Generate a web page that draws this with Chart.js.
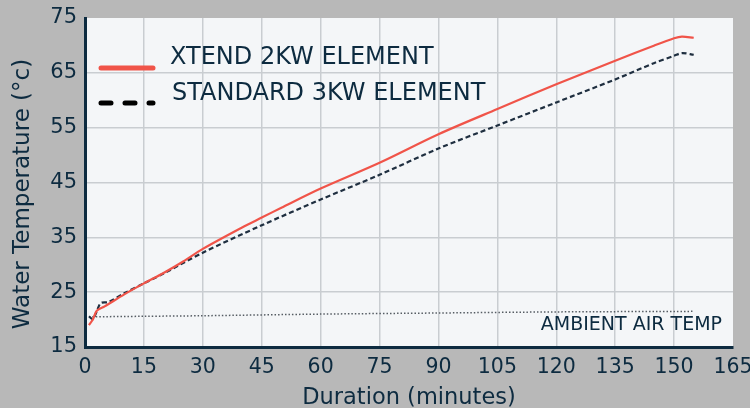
<!DOCTYPE html>
<html>
<head>
<meta charset="utf-8">
<script src="https://cdn.jsdelivr.net/npm/chart.js@4"></script>
<style>
  html, body { margin: 0; padding: 0; background: #b8b8b8; }
  canvas { display: block; }
</style>
</head>
<body>
<canvas id="chart" width="750" height="408"></canvas>
<script>
// minutes / degrees C
const xtendMinutes = [1, 2, 3, 5, 10, 15, 20, 25, 30, 40, 45, 50, 60, 75, 90, 105, 120, 135, 145, 150, 152, 155];
const xtendTemps = [19.0, 20.0, 21.6, 22.4, 24.6, 26.6, 28.5, 30.6, 32.9, 36.8, 38.6, 40.4, 43.9, 48.6, 53.8, 58.4, 62.9, 67.2, 70.0, 71.3, 71.6, 71.4];

const standardMinutes = [1, 2, 3, 4, 6, 10, 15, 20, 30, 45, 60, 75, 90, 105, 120, 135, 145, 150, 152, 155];
const standardTemps = [20.6, 20.1, 21.5, 23.0, 23.2, 24.8, 26.6, 28.4, 32.2, 37.2, 41.9, 46.4, 51.2, 55.4, 59.6, 63.8, 66.8, 68.1, 68.6, 68.3];

const ambientMinutes = [1, 15, 30, 60, 90, 120, 155];
const ambientTemps = [20.5, 20.6, 20.7, 21.0, 21.2, 21.4, 21.5];

const navy = '#0d2b40';
const font = "'DejaVu Sans', sans-serif";

function toPoints(xs, ys) {
  return xs.map((x, i) => ({ x: x, y: ys[i] }));
}

const plotBg = {
  id: 'plotBg',
  beforeDraw(chart) {
    const { ctx, chartArea: a } = chart;
    ctx.save();
    ctx.fillStyle = '#f4f6f8';
    ctx.fillRect(a.left, a.top, a.right - a.left, a.bottom - a.top);
    ctx.restore();
  }
};

// legend drawn inside the plot, plus the ambient label and y title
const notes = {
  id: 'notes',
  afterDraw(chart) {
    const { ctx } = chart;
    const sets = chart.data.datasets;
    ctx.save();
    ctx.font = '24px ' + font;
    ctx.fillStyle = navy;
    ctx.textBaseline = 'middle';
    ctx.lineCap = 'round';

    ctx.strokeStyle = sets[0].borderColor;
    ctx.lineWidth = 5;
    ctx.beginPath(); ctx.moveTo(101, 68); ctx.lineTo(153, 68); ctx.stroke();
    ctx.fillText(sets[0].label, 170, 58);

    ctx.strokeStyle = '#000';
    ctx.lineWidth = 5;
    ctx.setLineDash([10, 14]);
    ctx.beginPath(); ctx.moveTo(101, 103); ctx.lineTo(153, 103); ctx.stroke();
    ctx.setLineDash([]);
    ctx.fillText(sets[1].label, 172, 94);

    ctx.font = '19px ' + font;
    ctx.textAlign = 'right';
    ctx.fillText('AMBIENT AIR TEMP', 722, 325);

    ctx.font = '23px ' + font;
    ctx.textAlign = 'center';
    ctx.translate(23, 194);
    ctx.rotate(-Math.PI / 2);
    ctx.fillText('Water Temperature (°c)', 0, 0);
    ctx.restore();
  }
};

new Chart(document.getElementById('chart'), {
  type: 'line',
  data: {
    datasets: [
      {
        label: 'XTEND 2KW ELEMENT',
        data: toPoints(xtendMinutes, xtendTemps),
        borderColor: '#f05449',
        borderWidth: 2.2,
        pointRadius: 0,
        tension: 0.3
      },
      {
        label: 'STANDARD 3KW ELEMENT',
        data: toPoints(standardMinutes, standardTemps),
        borderColor: '#1f2f40',
        borderWidth: 2.2,
        borderDash: [5, 3],
        pointRadius: 0,
        tension: 0.3
      },
      {
        label: 'AMBIENT AIR TEMP',
        data: toPoints(ambientMinutes, ambientTemps),
        borderColor: '#555c63',
        borderWidth: 1.5,
        borderDash: [1.5, 2],
        pointRadius: 0,
        tension: 0.3
      }
    ]
  },
  options: {
    responsive: false,
    animation: false,
    layout: { autoPadding: false, padding: { top: 18, right: 17, left: 0, bottom: 0 } },
    plugins: { legend: { display: false }, tooltip: { enabled: false } },
    scales: {
      x: {
        type: 'linear',
        min: 0,
        max: 165,
        ticks: { stepSize: 15, color: navy, font: { family: font, size: 20.5 }, padding: 8, maxRotation: 0 },
        grid: {
          drawTicks: false,
          lineWidth: 1.5,
          color: c => (c.tick && (c.tick.value === 0 || c.tick.value === 165)) ? 'rgba(0,0,0,0)' : '#c9cdd1'
        },
        border: { color: navy, width: 3 },
        title: { display: true, text: 'Duration (minutes)', color: navy, font: { family: font, size: 22.5 }, padding: { top: 0, bottom: -4 } },
        afterFit: s => { s.height = 61; s.paddingLeft = 0; s.paddingRight = 0; }
      },
      y: {
        min: 15,
        max: 75,
        ticks: { stepSize: 10, color: navy, font: { family: font, size: 21 }, padding: 8 },
        grid: {
          drawTicks: false,
          lineWidth: 1.5,
          color: c => (c.tick && (c.tick.value === 15 || c.tick.value === 75)) ? 'rgba(0,0,0,0)' : '#c9cdd1'
        },
        border: { color: navy, width: 3 },
        afterFit: s => { s.width = 85; s.paddingTop = 0; s.paddingBottom = 0; }
      }
    }
  },
  plugins: [plotBg, notes]
});
</script>
</body>
</html>
